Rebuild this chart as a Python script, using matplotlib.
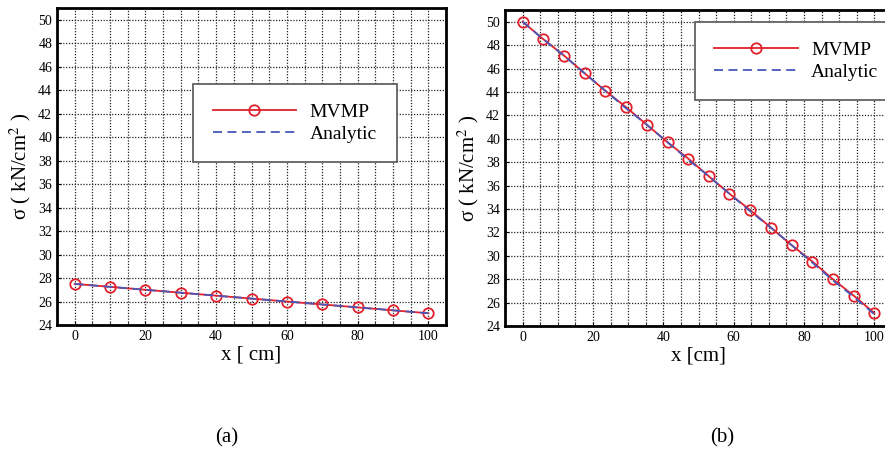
import matplotlib.pyplot as plt
import numpy as np
from matplotlib.ticker import MultipleLocator

plt.rcParams['font.family'] = ['Liberation Serif', 'DejaVu Serif']
plt.rcParams['mathtext.fontset'] = 'stix'

# panel (a)
xa = [0, 10, 20, 30, 40, 50, 60, 70, 80, 90, 100]
ya_mvmp = [27.5, 27.25, 27.0, 26.75, 26.5, 26.25, 26.0, 25.75, 25.5, 25.25, 25.0]
ya_analytic = [27.5, 27.25, 27.0, 26.75, 26.5, 26.25, 26.0, 25.75, 25.5, 25.25, 25.0]

# panel (b)
xb = [0, 5.9, 11.8, 17.6, 23.5, 29.4, 35.3, 41.2, 47.1, 52.9, 58.8, 64.7,
      70.6, 76.5, 82.4, 88.2, 94.1, 100]
yb_mvmp = [50.0, 48.5, 47.1, 45.6, 44.1, 42.7, 41.2, 39.7, 38.3, 36.8, 35.3,
           33.9, 32.4, 30.9, 29.5, 28.0, 26.6, 25.1]
yb_analytic = [50.0, 48.5, 47.1, 45.6, 44.1, 42.6, 41.2, 39.7, 38.2, 36.8, 35.3,
               33.8, 32.4, 30.9, 29.4, 27.9, 26.5, 25.0]

red = '#e2202c'
blue = '#4858b8'

fig = plt.figure(figsize=(8.85, 4.61), dpi=100)
W, H = 885, 461
ax1 = fig.add_axes([57 / W, 1 - 325 / H, 389 / W, 317 / H])
ax2 = fig.add_axes([505 / W, 1 - 326 / H, 387 / W, 316 / H])


def style(ax, x, y1, y2, legend_box):
    ax.plot(x, y1, '-', color=red, lw=1.3, marker='o', ms=7.5, mfc='none',
            mec=red, mew=1.3, label='MVMP', zorder=3)
    ax.plot(x, y2, '--', color=blue, lw=1.3, dashes=(5, 3), label='Analytic', zorder=4)
    ax.set_xlim(-5, 105)
    ax.set_ylim(24, 51)
    ax.xaxis.set_major_locator(MultipleLocator(20))
    ax.xaxis.set_minor_locator(MultipleLocator(5))
    ax.yaxis.set_major_locator(MultipleLocator(2))
    ax.grid(True, which='major', axis='y', color='#222222', ls=(0, (1, 1.3)), lw=0.9)
    ax.grid(True, which='both', axis='x', color='#222222', ls=(0, (1, 1.3)), lw=0.9)
    ax.tick_params(which='both', direction='in', labelsize=10, length=3)
    ax.tick_params(which='minor', length=2)
    for s in ax.spines.values():
        s.set_linewidth(2)
    ax.set_xlabel('x [ cm]', fontsize=15, labelpad=2)
    ax.set_ylabel(r'σ ( kN/cm$^2$ )', fontsize=15, labelpad=4)
    leg = ax.legend(loc='upper left', bbox_to_anchor=legend_box, fontsize=14,
                    frameon=True, fancybox=False, edgecolor='#555555',
                    handlelength=4.3, borderpad=1.0, labelspacing=0.2,
                    handletextpad=0.7, borderaxespad=0)
    leg.get_frame().set_linewidth(1.2)
    leg.get_frame().set_alpha(1)


style(ax1, xa, ya_mvmp, ya_analytic, (0.35, 0.76))
style(ax2, xb, yb_mvmp, yb_analytic, (0.49, 0.962))
ax2.set_xlabel('x [cm]', fontsize=15, labelpad=2)

fig.text(227 / W, 1 - 438 / H, '(a)', fontsize=15, ha='center', va='center')
fig.text(722 / W, 1 - 438 / H, '(b)', fontsize=15, ha='center', va='center')

fig.savefig('out.png', dpi=100)
